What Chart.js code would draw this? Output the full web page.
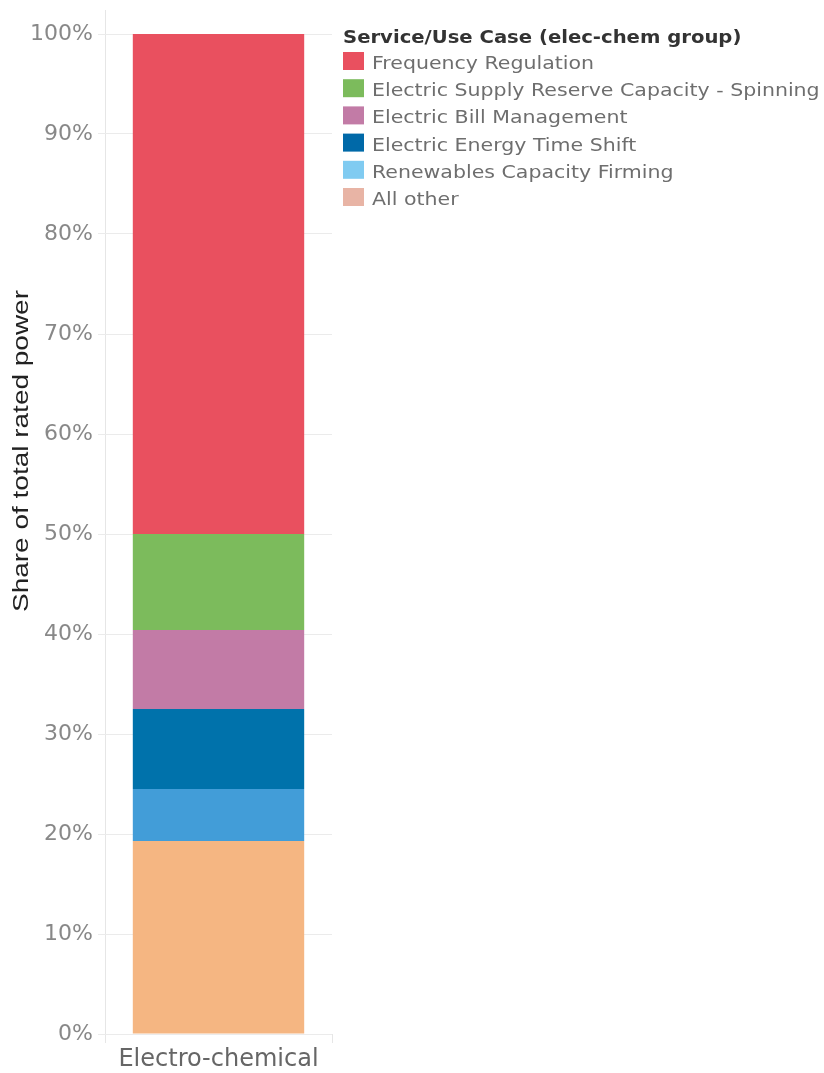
<!DOCTYPE html>
<html>
<head>
<meta charset="utf-8">
<script src="https://cdn.jsdelivr.net/npm/chart.js@4/dist/chart.umd.min.js"></script>
<style>
  html, body { margin: 0; padding: 0; background: #fff; }
  #wrap { width: 824px; height: 1073px; position: relative; }
</style>
</head>
<body>
<div id="wrap"><canvas id="chart"></canvas></div>
<script>
const categories = ["Electro-chemical"];
// legend order (top of stack first)
const seriesNames = [
  "Frequency Regulation",
  "Electric Supply Reserve Capacity - Spinning",
  "Electric Bill Management",
  "Electric Energy Time Shift",
  "Renewables Capacity Firming",
  "All other"
];
const seriesValues = [50.0, 9.6, 7.9, 8.0, 5.2, 19.3];
const barColors = ["#e9505f", "#7cbb5c", "#c27ba6", "#0072ab", "#429dd8", "#f5b682"];
const legendColors = ["#e9505f", "#7cbb5c", "#c27ba6", "#0069a8", "#80cbf1", "#e8b4a5"];
const yTicks = [0, 10, 20, 30, 40, 50, 60, 70, 80, 90, 100];
const legendTitle = "Service/Use Case (elec-chem group)";
const yTitle = "Share of total rated power";

const FONT = "'DejaVu Sans', sans-serif";

// bottom of stack first for drawing
const datasets = seriesNames.map((name, i) => ({
  label: name,
  data: [seriesValues[i]],
  backgroundColor: barColors[i],
  borderWidth: 0,
  barPercentage: 0.755,
  categoryPercentage: 1
})).reverse();

// draw text stretched horizontally (the original font is a wide one)
function wideText(ctx, text, x, y, k) {
  ctx.save();
  ctx.translate(x, y);
  ctx.scale(k, 1);
  ctx.fillText(text, 0, 0);
  ctx.restore();
}

const extras = {
  id: "extras",
  afterDraw(chart) {
    const ctx = chart.ctx;
    const area = chart.chartArea;
    ctx.save();
    // axis line extends above the 100% line
    ctx.strokeStyle = "#e6e6e6";
    ctx.lineWidth = 1;
    ctx.beginPath();
    ctx.moveTo(area.left + 0.5, 10);
    ctx.lineTo(area.left + 0.5, area.top);
    ctx.stroke();

    // y axis title
    ctx.fillStyle = "#222";
    ctx.font = "22px 'Liberation Sans', Arial, sans-serif";
    ctx.textAlign = "center";
    ctx.textBaseline = "middle";
    ctx.translate(22, 451);
    ctx.rotate(-Math.PI / 2);
    const w = ctx.measureText(yTitle).width;
    ctx.scale(322 / w, 1);
    ctx.fillText(yTitle, 0, 0);
    ctx.restore();

    // legend
    ctx.save();
    const lx = area.right + 11;
    ctx.textAlign = "left";
    ctx.textBaseline = "alphabetic";
    ctx.fillStyle = "#333";
    ctx.font = "bold 18px " + FONT;
    wideText(ctx, legendTitle, lx, 43, 1.09);
    ctx.font = "18px " + FONT;
    seriesNames.forEach((name, i) => {
      const y = 52 + i * 27.2;
      ctx.fillStyle = legendColors[i];
      ctx.fillRect(lx, y, 21, 18);
      ctx.fillStyle = "#6e6e6e";
      wideText(ctx, name, lx + 29, y + 17, 1.14);
    });
    ctx.restore();
  }
};

new Chart(document.getElementById("chart"), {
  type: "bar",
  data: { labels: categories, datasets: datasets },
  options: {
    responsive: true,
    maintainAspectRatio: false,
    animation: false,
    layout: { padding: { left: 0, right: 492, top: 34, bottom: 0 } },
    plugins: { legend: { display: false }, tooltip: { enabled: false } },
    scales: {
      x: {
        stacked: true,
        offset: true,
        border: { display: false },
        grid: {
          offset: true,
          color: c => c.index === 0 ? "#e6e6e6" : "rgba(0,0,0,0)",
          tickColor: "#e6e6e6",
          tickLength: 9
        },
        ticks: { color: "#666", font: { family: FONT, size: 24 }, padding: 2 },
        afterFit(scale) { scale.height = 39; }
      },
      y: {
        stacked: true,
        min: 0,
        max: 100,
        border: { display: false },
        grid: { color: "#ebebeb", tickLength: 7 },
        afterBuildTicks(scale) { scale.ticks = yTicks.map(v => ({ value: v })); },
        ticks: {
          color: "#888",
          font: { family: FONT, size: 22 },
          padding: 5,
          callback: v => v + "%"
        },
        afterFit(scale) { scale.width = 105; }
      }
    }
  },
  plugins: [extras]
});
</script>
</body>
</html>
